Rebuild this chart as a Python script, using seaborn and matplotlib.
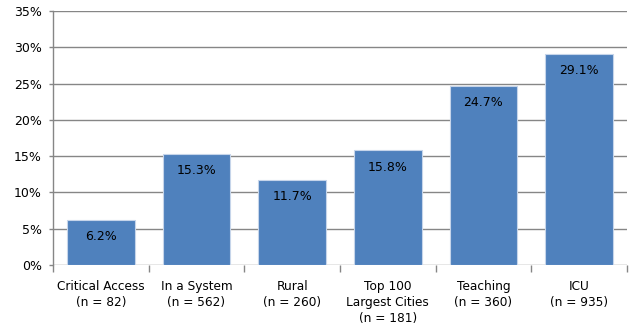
import matplotlib
matplotlib.use("Agg")
import matplotlib.pyplot as plt
import seaborn as sns
import pandas as pd
import numpy as np
from matplotlib.ticker import FixedLocator, PercentFormatter

categories = ["Critical Access\n(n = 82)", "In a System\n(n = 562)", "Rural\n(n = 260)",
              "Top 100\nLargest Cities\n(n = 181)", "Teaching\n(n = 360)", "ICU\n(n = 935)"]
values = [6.2, 15.3, 11.7, 15.8, 24.7, 29.1]
yticks = [0, 5, 10, 15, 20, 25, 30, 35]

sns.set_theme(style="white")
plt.rcParams['font.family'] = ['DejaVu Sans']

df = pd.DataFrame({"cat": categories, "val": values})

fig = plt.figure(figsize=(6.37, 3.32), dpi=100)
ax = fig.add_axes([53/637, 67/332, 574/637, 254/332])

sns.barplot(data=df, x="cat", y="val", color="#4F81BD", saturation=1, width=0.71,
            edgecolor="#C6D5EA", linewidth=0.8, ax=ax, zorder=3)

ax.set_ylim(0, 35)
ax.set_xlim(-0.5, len(categories) - 0.5)
ax.set_yticks(yticks)
ax.yaxis.set_major_formatter(PercentFormatter(decimals=0))
ax.grid(axis="y", color="#868686", linewidth=1.0, zorder=0)
ax.set_axisbelow(True)
ax.set_xlabel("")
ax.set_ylabel("")

for s in ["top", "right", "bottom"]:
    ax.spines[s].set_visible(False)
ax.spines["left"].set_color("#868686")
ax.spines["left"].set_linewidth(1.0)

ax.tick_params(axis="y", length=3, width=1, color="#868686", labelsize=9, pad=5,
               left=True, labelcolor="black")
ax.tick_params(axis="x", which="major", length=0, labelsize=8.7, pad=11, labelcolor="black")
for lbl in ax.get_xticklabels():
    lbl.set_linespacing(1.3)
ax.xaxis.set_minor_locator(FixedLocator(np.arange(-0.5, len(categories), 1.0)))
ax.tick_params(axis="x", which="minor", length=5, width=1, color="#868686", bottom=True)

for i, v in enumerate(values):
    ax.annotate(f"{v:.1f}%", xy=(i, v), xytext=(0, -12), textcoords="offset points",
                ha="center", va="center", fontsize=9, color="black", zorder=5)

fig.savefig("out.png", dpi=100)
